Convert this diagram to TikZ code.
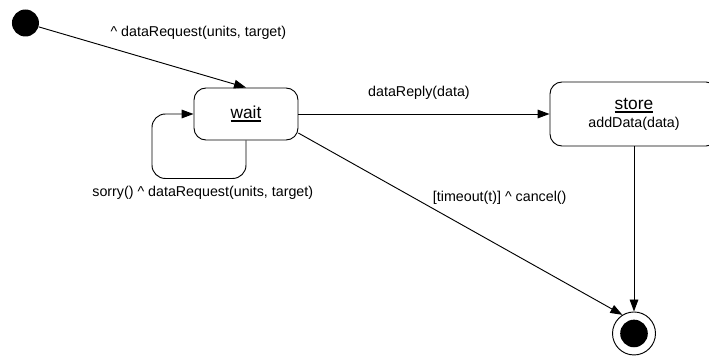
\documentclass[tikz,border=0pt]{standalone}
\usepackage{fontspec}
\setmainfont{Liberation Sans}
\usepackage{tikz}
\usetikzlibrary{arrows.meta, positioning}

\newcommand{\statename}[1]{{\fontsize{13}{15}\selectfont\setbox0\hbox{#1}\rlap{\copy0}\rule[-2.6pt]{\wd0}{1.3pt}}}

\begin{document}
\begin{tikzpicture}[on grid, line width=0.7pt, font=\fontsize{10.7}{13.5}\selectfont,
		trans/.style={-{Triangle[length=9pt,width=6.5pt]}},
		startstate/.style={circle, fill, inner sep=0pt, minimum size=20.25pt},
		endstate/.style={circle, draw, inner sep=0pt, minimum size=32.25pt,
			path picture={\fill (path picture bounding box.center) circle (10.35pt);}},
		umlstate/.style={draw, rounded corners=9pt, align=center, inner sep=0pt}]
		\useasboundingbox (0,0) rectangle (531.75pt,-267pt);
		
		\node[startstate] (init) at (19.1pt,-17.25pt) {};
		\node[umlstate, minimum width=78pt, minimum height=39pt, below right = 68.25pt and 165.4pt of init] (wait) {\statename{wait}};
		\node[umlstate, minimum width=126pt, minimum height=48pt, right = 291pt of wait] (store) {\statename{store}\\addData(data)};
		\node[endstate, below = 164.6pt of store] (end) {};
		
		\path[trans] (init) edge node[pos=0.77, above=22pt] {\textasciicircum{} dataRequest(units, target)} (wait.north)
		(wait) edge node[pos=0.48, above=7pt] {dataReply(data)} (store)
		(wait.-20) edge node[pos=0.4, anchor=south west, yshift=-2.5pt] {[timeout(t)] \textasciicircum{} cancel()} (end.122)
		(store) edge (end);
		
		\draw[trans, rounded corners=10pt] (wait.south) -- ++(0,-28.5pt)
		-- node[pos=0.46, below=2pt] {sorry() \textasciicircum{} dataRequest(units, target)} ++(-70.5pt,0) |- (wait.west);
		
		\end{tikzpicture}
\end{document}
